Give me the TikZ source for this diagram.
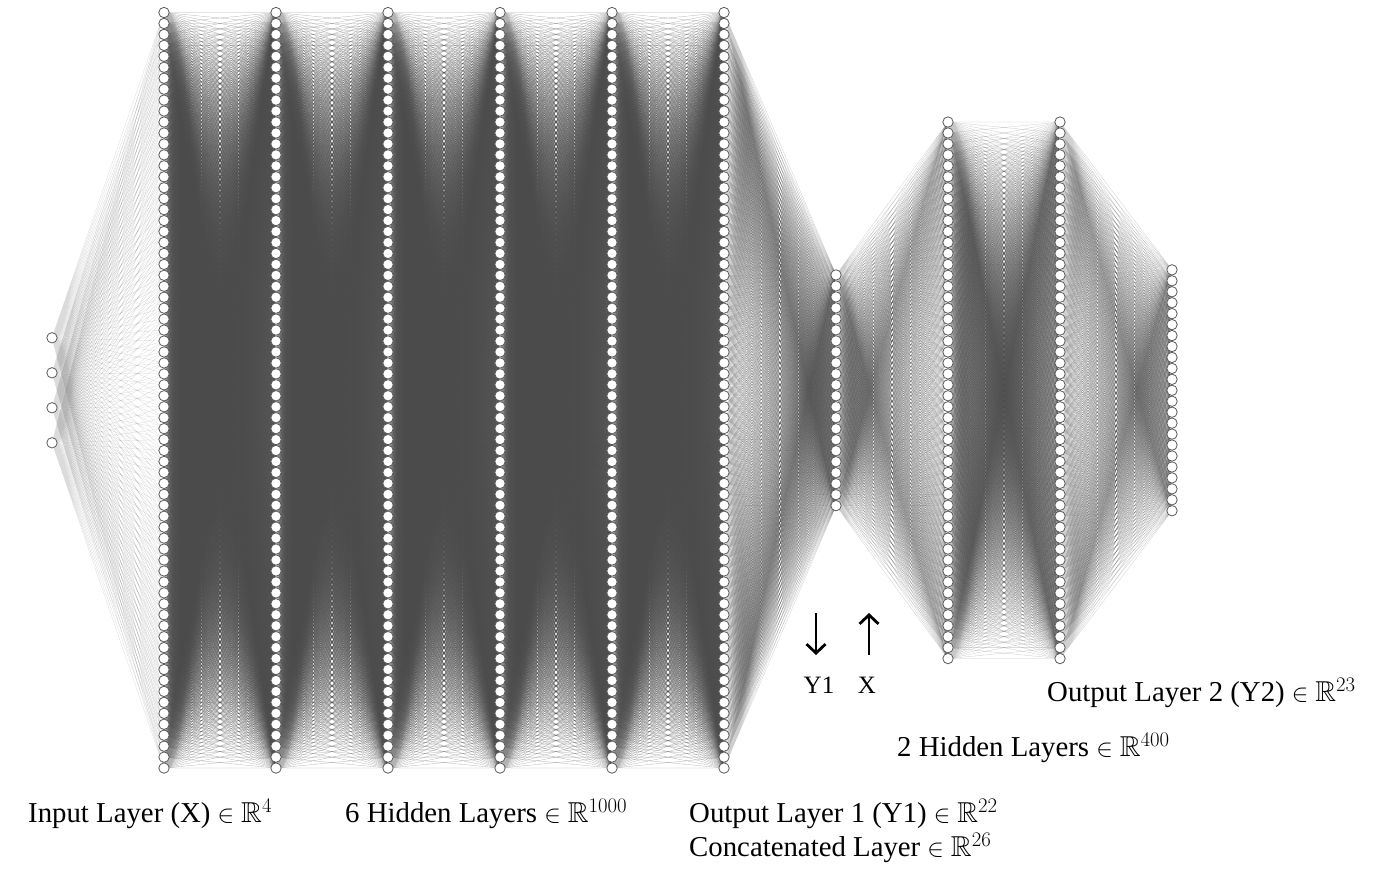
\documentclass[tikz,border=0pt]{standalone}
\usepackage{amssymb}
\usepackage{fontspec}
\setmainfont{Liberation Serif}
\usetikzlibrary{arrows.meta}
\pgfdeclarelayer{background}
\pgfsetlayers{background,main}
\definecolor{edgec}{HTML}{4A4A4A}
\definecolor{nodec}{HTML}{5A5A5A}
\tikzset{
  neuron/.style={circle,draw=nodec,fill=white,line width=0.8pt,minimum size=10.4pt,inner sep=0pt},
  edge/.style={draw=edgec,line width=0.3pt},
  lbl/.style={font=\fontsize{28.8}{32}\selectfont,inner sep=0pt,anchor=base west},
  small/.style={font=\fontsize{25}{30}\selectfont,inner sep=0pt,anchor=base},
  bigarrow/.style={line width=2.8pt,-{Straight Barb[length=9pt,width=19pt,line width=2.8pt]}}
}
\begin{document}
\begin{tikzpicture}[x=1pt,y=-1pt]
\useasboundingbox (0,0) rectangle (1375,888);
\def\cy{390.3}
\foreach \L/\X/\N/\D in {0/52/4/35,1/164/70/10.95,2/276/70/10.95,3/388/70/10.95,4/500/70/10.95,5/612/70/10.95,6/724/70/10.95,7/836/22/10.986,8/948/50/10.95,9/1060/50/10.95,10/1172/23/10.95}{
  \foreach \i in {1,...,\N}{
    \node[neuron] (n\L-\i) at (\X,{\cy+(\i-(\N+1)/2)*\D}) {};
  }
}
\begin{pgfonlayer}{background}
\foreach \A/\NA/\B/\NB/\O in {0/4/1/70/0.2,1/70/2/70/0.42,2/70/3/70/0.42,3/70/4/70/0.42,4/70/5/70/0.42,5/70/6/70/0.42,6/70/7/22/0.27,7/22/8/50/0.27,8/50/9/50/0.3,9/50/10/23/0.26}{
  \begin{scope}[edge,draw opacity=\O]
  \foreach \i in {1,...,\NA}{
    \draw (n\A-\i.center) \foreach \j in {1,...,\NB}{ -- (n\B-\j.center) (n\A-\i.center)};
  }
  \end{scope}
}
\end{pgfonlayer}
\node[lbl] (tin) at (28,822) {Input Layer (X) $\in\mathbb{R}^{4}$};
\node[lbl] (thid) at (345,822) {6 Hidden Layers $\in\mathbb{R}^{1000}$};
\node[lbl] (tout1) at (689,822) {Output Layer 1 (Y1) $\in\mathbb{R}^{22}$};
\node[lbl] (tcat) at (689,856) {Concatenated Layer $\in\mathbb{R}^{26}$};
\node[lbl] (tout2) at (1047,701) {Output Layer 2 (Y2) $\in\mathbb{R}^{23}$};
\node[lbl] (thid2) at (897,756) {2 Hidden Layers $\in\mathbb{R}^{400}$};
\coordinate (dA) at (816,613);
\coordinate (dB) at (816,655);
\coordinate (uA) at (869,655);
\coordinate (uB) at (869,613);
\draw[bigarrow] (dA) -- (dB);
\draw[bigarrow] (uA) -- (uB);
\node[small] (ty1) at (819,693) {Y1};
\node[small] (tx) at (867,693) {X};
\end{tikzpicture}
\end{document}
